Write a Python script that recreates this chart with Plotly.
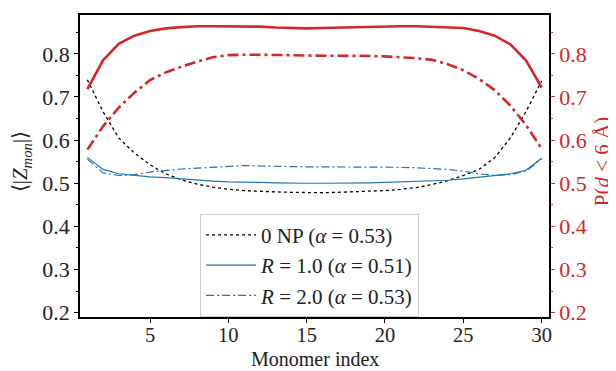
import plotly.graph_objects as go

monomer = list(range(1, 31))

z_0np = [0.740, 0.666, 0.605, 0.570, 0.543, 0.522, 0.508, 0.498, 0.491, 0.486,
         0.483, 0.481, 0.480, 0.479, 0.478, 0.478, 0.479, 0.480, 0.481, 0.483,
         0.486, 0.490, 0.497, 0.506, 0.518, 0.532, 0.559, 0.605, 0.666, 0.737]
z_r1 = [0.560, 0.532, 0.522, 0.518, 0.515, 0.513, 0.510, 0.508, 0.505, 0.503,
        0.503, 0.502, 0.501, 0.500, 0.500, 0.500, 0.500, 0.501, 0.501, 0.502,
        0.503, 0.504, 0.505, 0.507, 0.510, 0.514, 0.518, 0.522, 0.530, 0.558]
z_r2 = [0.556, 0.524, 0.518, 0.520, 0.526, 0.530, 0.533, 0.535, 0.537, 0.540,
        0.541, 0.540, 0.539, 0.538, 0.538, 0.538, 0.538, 0.538, 0.538, 0.537,
        0.537, 0.536, 0.534, 0.532, 0.528, 0.522, 0.518, 0.520, 0.528, 0.556]
p_r1 = [0.718, 0.785, 0.823, 0.842, 0.853, 0.859, 0.862, 0.864, 0.864, 0.864,
        0.864, 0.863, 0.861, 0.860, 0.859, 0.860, 0.861, 0.862, 0.863, 0.864,
        0.864, 0.864, 0.863, 0.862, 0.860, 0.853, 0.842, 0.822, 0.785, 0.722]
p_r2 = [0.578, 0.632, 0.675, 0.710, 0.739, 0.757, 0.770, 0.782, 0.792, 0.797,
        0.798, 0.798, 0.797, 0.797, 0.796, 0.796, 0.796, 0.796, 0.795, 0.794,
        0.792, 0.790, 0.786, 0.776, 0.762, 0.742, 0.716, 0.680, 0.635, 0.580]

labels = ["0 NP (<i>α</i> = 0.53)",
          "<i>R</i> = 1.0 (<i>α</i> = 0.51)",
          "<i>R</i> = 2.0 (<i>α</i> = 0.53)"]

x_title = "Monomer index"
y_title = "⟨|<i>Z</i><sub><i>mon</i></sub>|⟩"
y2_title = "P(<i>d</i> &lt; 6 Å)"

RED = "#d62728"
BLUE = "#1f77b4"
FONT = "Liberation Serif"

fig = go.Figure()
fig.add_trace(go.Scatter(x=monomer, y=z_0np, mode="lines", name=labels[0],
                         line=dict(color="black", width=1.3, dash="3px,3px")))
fig.add_trace(go.Scatter(x=monomer, y=z_r1, mode="lines", name=labels[1],
                         line=dict(color=BLUE, width=1.2)))
fig.add_trace(go.Scatter(x=monomer, y=z_r2, mode="lines", name=labels[2],
                         line=dict(color=BLUE, width=1.2, dash="8px,3px,2px,3px")))
fig.add_trace(go.Scatter(x=monomer, y=p_r1, mode="lines", showlegend=False,
                         line=dict(color=RED, width=2.6), yaxis="y2"))
fig.add_trace(go.Scatter(x=monomer, y=p_r2, mode="lines", showlegend=False,
                         line=dict(color=RED, width=2.6, dash="11px,4px,3px,4px"), yaxis="y2"))

# The page body adds an 8px offset, so margins are shifted accordingly.
fig.update_layout(
    width=616, height=371,
    margin=dict(l=72, r=75, t=5, b=62),
    paper_bgcolor="white", plot_bgcolor="white",
    font=dict(family=FONT, size=22, color="#222"),
    xaxis=dict(range=[0.53, 30.47], tickvals=[5, 10, 15, 20, 25, 30],
               ticks="outside", ticklen=4, tickcolor="black",
               ticklabelstandoff=-5, tickfont=dict(size=20.5),
               showline=True, linecolor="black", linewidth=1.5, mirror=True,
               showgrid=False, zeroline=False),
    yaxis=dict(range=[0.19, 0.89], tickvals=[0.2, 0.3, 0.4, 0.5, 0.6, 0.7, 0.8],
               tickformat=".1f",
               ticks="outside", ticklen=4, tickcolor="black",
               minor=dict(ticks="outside", ticklen=2.5, dtick=0.05, tick0=0.15, tickcolor="black"),
               showline=True, linecolor="black", linewidth=1.5,
               showgrid=False, zeroline=False),
    yaxis2=dict(range=[0.19, 0.89], overlaying="y", side="right",
                tickvals=[0.2, 0.3, 0.4, 0.5, 0.6, 0.7, 0.8], tickformat=".1f",
                ticks="outside", ticklen=4, tickcolor=RED,
                minor=dict(ticks="outside", ticklen=2.5, dtick=0.05, tick0=0.15, tickcolor=RED),
                tickfont=dict(color=RED),
                showline=True, linecolor="black", linewidth=1.5,
                showgrid=False, zeroline=False),
    legend=dict(x=0.256, y=0.342, xanchor="left", yanchor="top",
                bgcolor="white", bordercolor="#cccccc", borderwidth=1,
                font=dict(family=FONT, size=21, color="#222"),
                itemwidth=50, tracegroupgap=0),
    annotations=[
        dict(text=x_title, xref="paper", yref="paper", x=0.5, y=-0.139,
             xanchor="center", yanchor="middle", showarrow=False,
             font=dict(size=20, color="#222")),
        dict(text=y_title, xref="paper", yref="paper", x=-0.124, y=0.515,
             xanchor="center", yanchor="middle", showarrow=False, textangle=-90,
             font=dict(size=21, color="#222")),
        dict(text=y2_title, xref="paper", yref="paper", x=1.113, y=0.516,
             xanchor="center", yanchor="middle", showarrow=False, textangle=-90,
             font=dict(size=21, color=RED)),
    ],
)

fig.write_html("out.html")
